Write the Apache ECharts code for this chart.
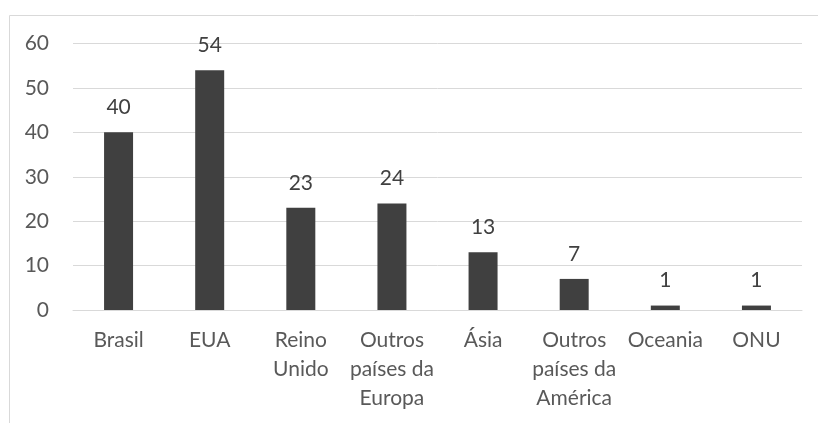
<!DOCTYPE html>
<html><head><meta charset="utf-8">
<script src="https://cdn.jsdelivr.net/npm/echarts@6/dist/echarts.min.js"></script>
<style>html,body{margin:0;padding:0;background:#fff;}#c{width:818px;height:423px;}</style>
</head><body><div id="c"></div>
<script>
const categories = ['Brasil', 'EUA', 'Reino\nUnido', 'Outros\npaíses da\nEuropa', 'Ásia', 'Outros\npaíses da\nAmérica', 'Oceania', 'ONU'];
const values = [40, 54, 23, 24, 13, 7, 1, 1];
const yTicks = { min: 0, max: 60, interval: 10 };

const chart = echarts.init(document.getElementById('c'));
const font = 'Lato, sans-serif';
chart.setOption({
  animation: false,
  graphic: [{ type: 'rect', shape: { x: 9.5, y: 15.5, width: 900, height: 500 }, style: { fill: 'none', stroke: '#d9d9d9', lineWidth: 1 }, silent: true }],
  grid: { left: 73, right: 16, top: 43.5, bottom: 113 },
  xAxis: {
    type: 'category', data: categories,
    axisLine: { lineStyle: { color: '#d9d9d9', width: 1 } },
    axisTick: { show: false },
    axisLabel: { color: '#595959', fontSize: 21, fontFamily: font, lineHeight: 29, margin: 16, interval: 0 }
  },
  yAxis: {
    type: 'value', min: yTicks.min, max: yTicks.max, interval: yTicks.interval,
    axisLine: { show: false }, axisTick: { show: false },
    splitLine: { lineStyle: { color: '#d9d9d9', width: 1 } },
    axisLabel: { color: '#595959', fontSize: 21, fontFamily: font, margin: 24 }
  },
  series: [{
    type: 'bar', data: values, barWidth: 29,
    itemStyle: { color: '#404040' },
    label: { show: true, position: 'top', distance: 14.5, color: '#404040', fontSize: 21, fontFamily: font }
  }]
});
</script></body></html>
